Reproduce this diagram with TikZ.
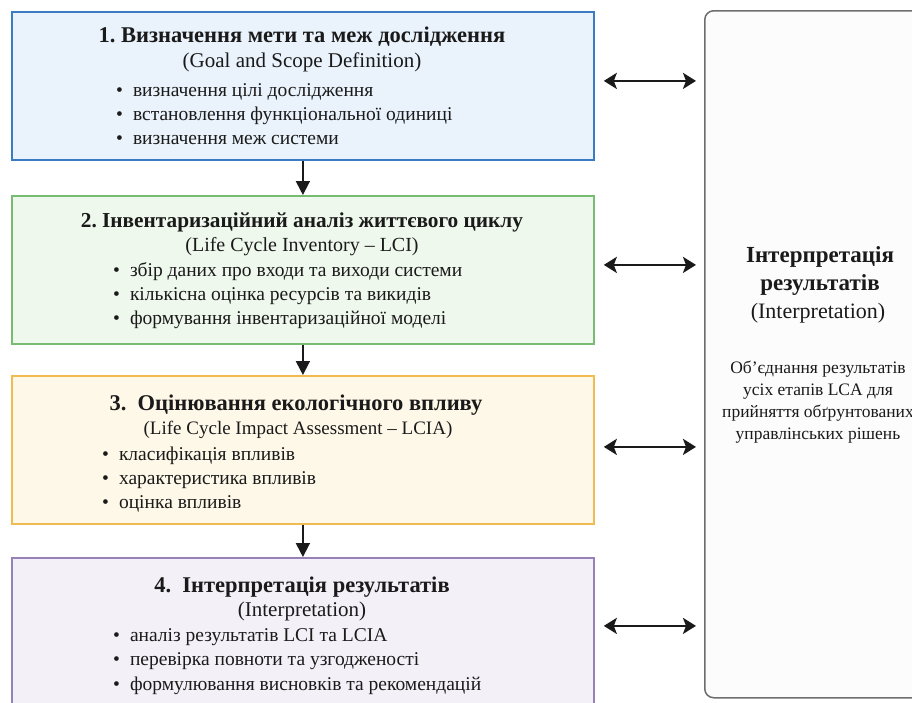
\documentclass[tikz,border=0pt]{standalone}
\usepackage{fontspec}
\setmainfont{Liberation Serif}
\usetikzlibrary{arrows.meta}

\definecolor{bluebd}{HTML}{3A7BC4}
\definecolor{bluefl}{HTML}{EAF3FC}
\definecolor{greenbd}{HTML}{78BC74}
\definecolor{greenfl}{HTML}{EFF8ED}
\definecolor{orangebd}{HTML}{F0BC52}
\definecolor{orangefl}{HTML}{FEF8E8}
\definecolor{purplebd}{HTML}{9782B8}
\definecolor{purplefl}{HTML}{F4F0F8}
\definecolor{sidebd}{HTML}{6E6E6E}
\definecolor{sidefl}{HTML}{FCFCFC}
\definecolor{ink}{HTML}{1A1A1A}

\tikzset{
  stagebox/.style={draw, line width=1.8pt, minimum width=582pt, minimum height=148pt,
    anchor=north west, inner sep=0pt},
  titletext/.style={text=ink, font=\fontsize{22.5}{26}\selectfont\bfseries, inner sep=0pt},
  subtext/.style={text=ink, font=\fontsize{20}{24}\selectfont, inner sep=0pt},
  itemtext/.style={text=ink, font=\fontsize{19.5}{23}\selectfont, inner sep=0pt, anchor=west},
  sidetitle/.style={text=ink, font=\fontsize{23}{27}\selectfont\bfseries, inner sep=0pt},
  sidesub/.style={text=ink, font=\fontsize{22}{26}\selectfont, inner sep=0pt},
  sidenote/.style={text=ink, font=\fontsize{17.5}{22}\selectfont, inner sep=0pt, align=center},
  flow/.style={line width=1.8pt, ink, -{Triangle[length=14pt,width=14pt]}},
  link/.style={line width=2.8pt, ink,
    {Stealth[length=13pt,width=16pt,inset=3pt]}-{Stealth[length=13pt,width=16pt,inset=3pt]}},
}
\newcommand{\itm}[1]{\textbullet\hspace{10pt}#1}

\begin{document}
\begin{tikzpicture}[x=1pt,y=-1pt]
  \useasboundingbox (0,0) rectangle (912,702);
  \clip (0,0) rectangle (912,702);
  \fill[white] (0,0) rectangle (912,702);

  % interpretation column on the right
  \node[draw=sidebd, fill=sidefl, line width=1.5pt, rounded corners=9pt,
        minimum width=232pt, minimum height=687pt, anchor=north west, inner sep=0pt]
        (side) at (704,10) {};
  \node[sidetitle] (sidet1) at (820,257) {Інтерпретація};
  \node[sidetitle] (sidet2) at (820,285) {результатів};
  \node[sidesub]   (sides)  at (818,313) {(Interpretation)};
  \node[sidenote, anchor=north] (siden) at (818,361)
    {Об’єднання результатів\\усіх етапів LCA для\\прийняття обґрунтованих\\управлінських рішень};

  % stage 1
  \node[stagebox, draw=bluebd, fill=bluefl] (b1) at (11,11) {};
  \node[titletext] (b1t) at (302,37) {1.\ Визначення мети та меж дослідження};
  \node[subtext, font=\fontsize{21}{25}\selectfont] (b1s) at (302,62) {(Goal and Scope Definition)};
  \node[itemtext]  (b1a) at (116,92)  {\itm{визначення цілі дослідження}};
  \node[itemtext]  (b1b) at (116,116) {\itm{встановлення функціональної одиниці}};
  \node[itemtext]  (b1c) at (116,140) {\itm{визначення меж системи}};

  % stage 2
  \node[stagebox, draw=greenbd, fill=greenfl] (b2) at (11,195) {};
  \node[titletext, font=\fontsize{21.3}{25}\selectfont\bfseries] (b2t) at (302,222)
    {2.\ Інвентаризаційний аналіз життєвого циклу};
  \node[subtext]   (b2s) at (302,247) {(Life Cycle Inventory – LCI)};
  \node[itemtext]  (b2a) at (113,272) {\itm{збір даних про входи та виходи системи}};
  \node[itemtext]  (b2b) at (113,296) {\itm{кількісна оцінка ресурсів та викидів}};
  \node[itemtext]  (b2c) at (113,320) {\itm{формування інвентаризаційної моделі}};

  % stage 3
  \node[stagebox, draw=orangebd, fill=orangefl] (b3) at (11,375) {};
  \node[titletext] (b3t) at (296,405) {3.\ \ Оцінювання екологічного впливу};
  \node[subtext, font=\fontsize{19}{23}\selectfont] (b3s) at (298,430)
    {(Life Cycle Impact Assessment – LCIA)};
  \node[itemtext]  (b3a) at (102,456) {\itm{класифікація впливів}};
  \node[itemtext]  (b3b) at (102,480) {\itm{характеристика впливів}};
  \node[itemtext]  (b3c) at (102,504) {\itm{оцінка впливів}};

  % stage 4
  \node[stagebox, draw=purplebd, fill=purplefl] (b4) at (11,557) {};
  \node[titletext] (b4t) at (302,587) {4.\ \ Інтерпретація результатів};
  \node[subtext, font=\fontsize{21}{25}\selectfont] (b4s) at (302,611) {(Interpretation)};
  \node[itemtext]  (b4a) at (113,637) {\itm{аналіз результатів LCI та LCIA}};
  \node[itemtext]  (b4b) at (113,661) {\itm{перевірка повноти та узгодженості}};
  \node[itemtext]  (b4c) at (113,686) {\itm{формулювання висновків та рекомендацій}};

  % sequence of stages
  \draw[flow] (b1.south) -- (b2.north);
  \draw[flow] (b2.south) -- (b3.north);
  \draw[flow] (b3.south) -- (b4.north);

  % links between every stage and the interpretation column
  \coordinate (l1) at ([xshift=9pt,yshift=5pt]b1.east);
  \coordinate (l2) at ([xshift=9pt,yshift=5pt]b2.east);
  \coordinate (l3) at ([xshift=9pt,yshift=3pt]b3.east);
  \coordinate (l4) at ([xshift=9pt,yshift=6pt]b4.east);
  \draw[link] (l1) -- ([xshift=-8pt]side.west |- l1);
  \draw[link] (l2) -- ([xshift=-8pt]side.west |- l2);
  \draw[link] (l3) -- ([xshift=-8pt]side.west |- l3);
  \draw[link] (l4) -- ([xshift=-8pt]side.west |- l4);
\end{tikzpicture}
\end{document}
